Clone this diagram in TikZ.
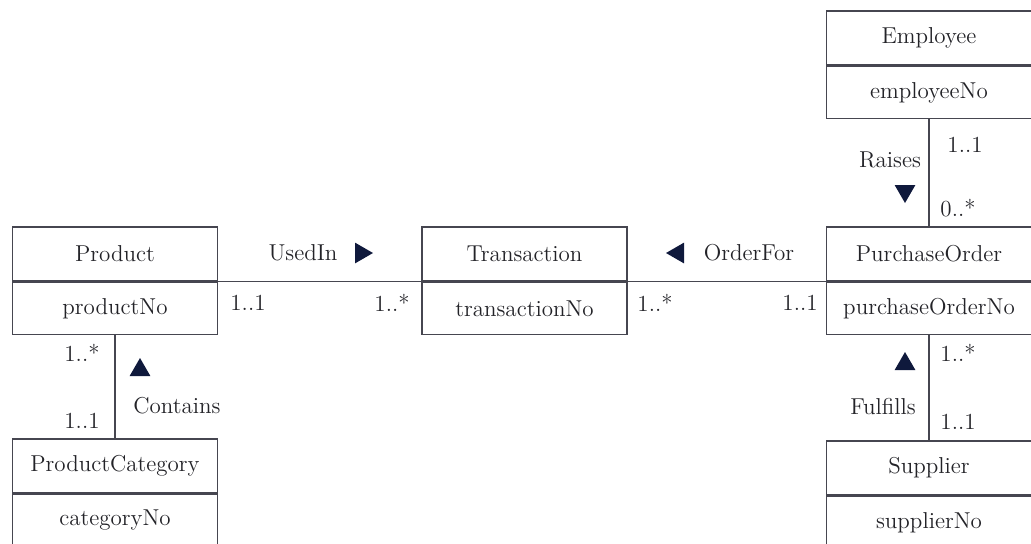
\documentclass[tikz,border=0pt]{standalone}
\usepackage{tikz}
\usetikzlibrary{positioning,shapes.geometric}
\definecolor{myline}{RGB}{70,70,80}
\definecolor{mytext}{RGB}{35,35,40}
\definecolor{mynavy}{RGB}{15,25,60}

\tikzset{
  classname/.style={draw=myline, line width=0.7pt, minimum width=102.5pt,
                    minimum height=27pt, inner sep=0pt, text=mytext},
  classattr/.style={draw=myline, line width=0.7pt, minimum width=102.5pt,
                    minimum height=26pt, inner sep=0pt, text=mytext,
                    below=0pt of #1},
  assoc/.style={draw=myline, line width=0.7pt},
  mult/.style={text=mytext, inner sep=1pt},
  tri/.style={regular polygon, regular polygon sides=3, fill=mynavy,
              inner sep=0pt, minimum size=12pt, regular polygon rotate=#1},
}

\begin{document}
\begin{tikzpicture}[x=0.5pt, y=-0.5pt, font=\fontsize{11.5}{13}\selectfont]
  \useasboundingbox (0,0) rectangle (1031,543);
  \clip (0,0) rectangle (1031,543);
  % Classes
  \node[classname] (empname) at (929,38) {Employee};
  \node[classattr=empname] (empno) {employeeNo};
  \node[classname] (prodname) at (115,254) {Product};
  \node[classattr=prodname] (prodno) {productNo};
  \node[classname] (transname) at (524.5,254) {Transaction};
  \node[classattr=transname] (transno) {transactionNo};
  \node[classname] (poname) at (929,254) {PurchaseOrder};
  \node[classattr=poname] (pono) {purchaseOrderNo};
  \node[classname] (catname) at (115,466) {ProductCategory};
  \node[classattr=catname] (catno) {categoryNo};
  \node[classname] (supname) at (929,468) {Supplier};
  \node[classattr=supname] (supno) {supplierNo};
  % Associations
  \draw[assoc] (prodname.south east) -- (transname.south west);
  \draw[assoc] (transname.south east) -- (poname.south west);
  \draw[assoc] (prodno.south) -- (catname.north);
  \draw[assoc] (empno.south) -- (poname.north);
  \draw[assoc] (pono.south) -- (supname.north);
  % UsedIn
  \node[mult] (usedin) at (303,253) {UsedIn};
  \node[tri=-90] (usedintri) at (361,253) {};
  \node[mult] (usedinA) at (248,303) {1..1};
  \node[mult] (usedinB) at (392,303) {1..*};
  % OrderFor
  \node[tri=90] (orderfortri) at (678,253) {};
  \node[mult] (orderfor) at (749,253) {OrderFor};
  \node[mult] (orderforA) at (655,303) {1..*};
  \node[mult] (orderforB) at (800,303) {1..1};
  % Contains
  \node[mult] (containsA) at (82,353) {1..*};
  \node[tri=0] (containstri) at (140,370) {};
  \node[mult] (contains) at (177,406) {Contains};
  \node[mult] (containsB) at (82,421) {1..1};
  % Raises
  \node[mult] (raisesA) at (965,145) {1..1};
  \node[mult] (raises) at (890,160) {Raises};
  \node[tri=180] (raisestri) at (905,191) {};
  \node[mult] (raisesB) at (958,208) {0..*};
  % Fulfills
  \node[mult] (fulfillsA) at (958,353) {1..*};
  \node[tri=0] (fulfillstri) at (905,364) {};
  \node[mult] (fulfills) at (883,407) {Fulfills};
  \node[mult] (fulfillsB) at (958,422) {1..1};
\end{tikzpicture}
\end{document}
